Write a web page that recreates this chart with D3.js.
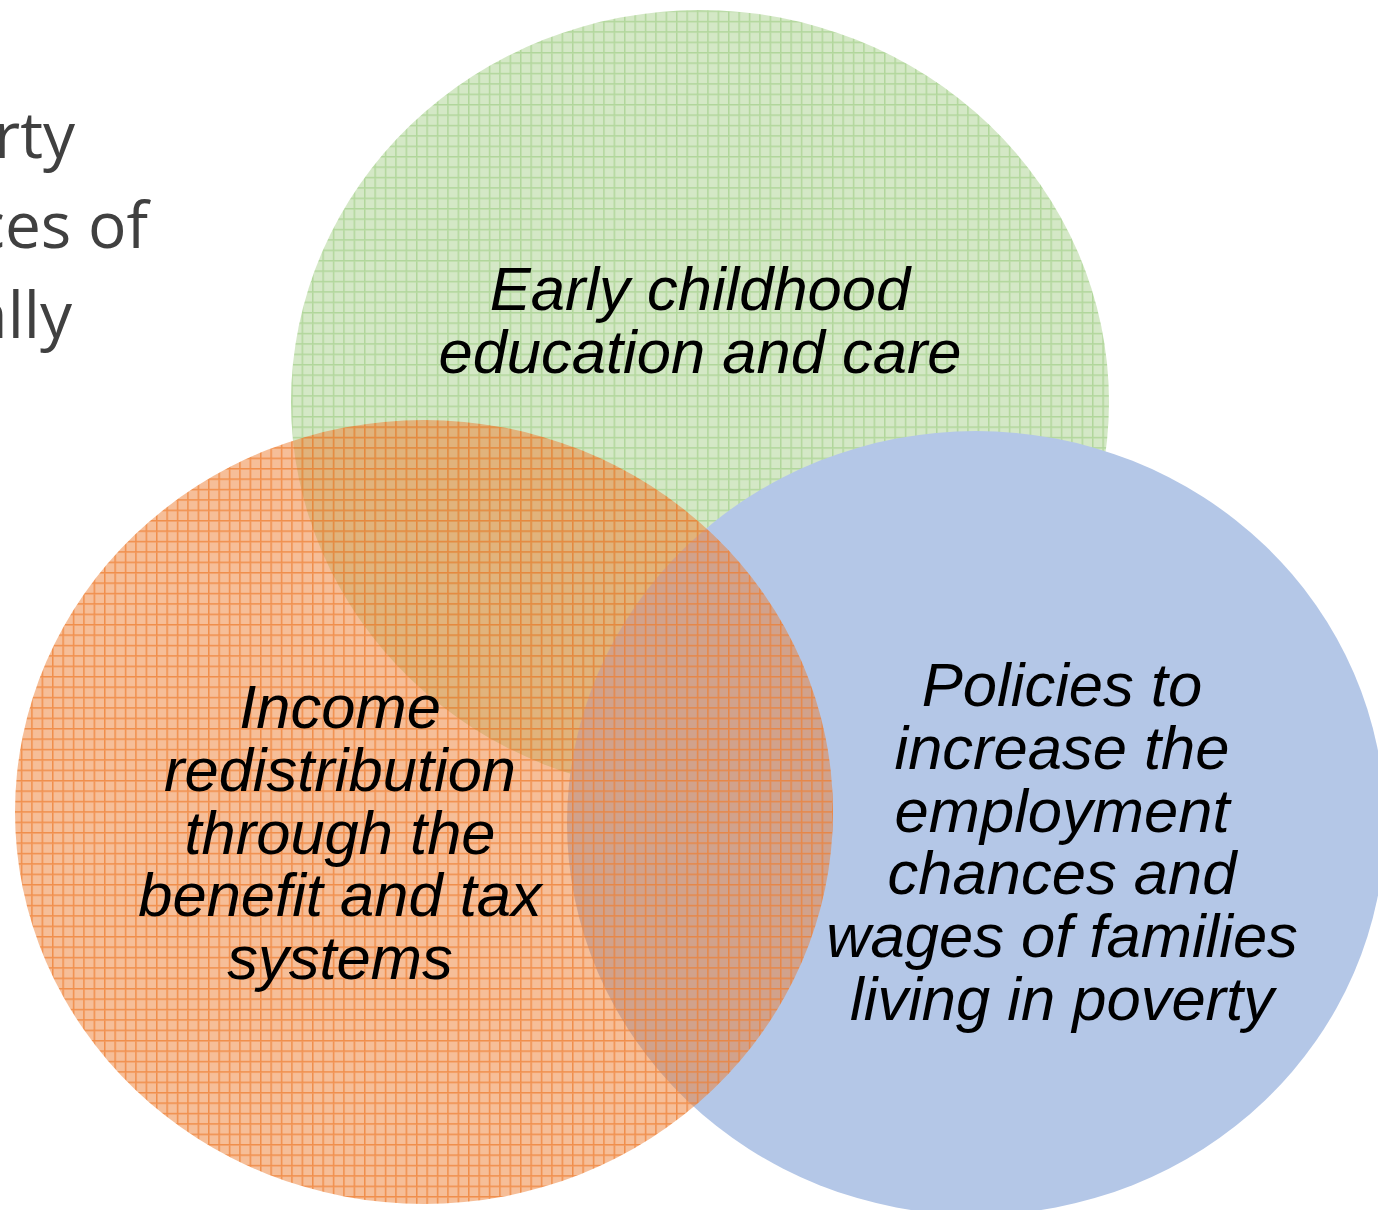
<!DOCTYPE html>
<html><head><meta charset="utf-8">
<script src="https://cdn.jsdelivr.net/npm/d3@7"></script>
<style>html,body{margin:0;padding:0;background:#fff;overflow:hidden}</style>
</head><body>
<script>
// ---- data ----
const setNames = ["Early childhood education and care", "Policies to increase employment", "Income redistribution"];
const setLabels = [
  ["Early childhood", "education and care"],
  ["Policies to", "increase the", "employment", "chances and", "wages of families", "living in poverty"],
  ["Income", "redistribution", "through the", "benefit and tax", "systems"]
];
const titleFragments = ["rty", "ces of", "ally"];

// ---- layout ----
const W = 1378, H = 1210;
const svg = d3.select("body").append("svg").attr("width", W).attr("height", H);
const defs = svg.append("defs");

const styles = [
  {id: "pg", bg: "rgba(169,209,142,0.5)", line: "rgba(150,200,120,0.55)"},
  {id: "pb", bg: "#B4C7E7", line: null},
  {id: "po", bg: "rgba(237,125,49,0.5)", line: "rgba(237,125,49,0.75)"}
];
const step = 10.4;
styles.forEach(s => {
  if (!s.line) return;
  const p = defs.append("pattern").attr("id", s.id).attr("patternUnits", "userSpaceOnUse")
    .attr("width", step).attr("height", step);
  p.append("rect").attr("width", step).attr("height", step).attr("fill", s.bg);
  p.append("rect").attr("x", 0).attr("y", 0).attr("width", step).attr("height", 1.5).attr("fill", s.line);
  p.append("rect").attr("x", 0).attr("y", 1.5).attr("width", 1.5).attr("height", step - 1.5).attr("fill", s.line);
});

const geo = [
  {cx: 700, cy: 402, rx: 409, ry: 392, tx: 700, ty: 310},
  {cx: 976, cy: 823, rx: 409, ry: 392, tx: 1062, ty: 706},
  {cx: 424, cy: 812, rx: 409, ry: 392, tx: 340, ty: 728}
];
const sets = setNames.map((n, i) => ({name: n, lines: setLabels[i], g: geo[i], s: styles[i]}));

svg.selectAll("ellipse.set").data(sets).join("ellipse").attr("class", "set")
  .attr("cx", d => d.g.cx).attr("cy", d => d.g.cy).attr("rx", d => d.g.rx).attr("ry", d => d.g.ry)
  .attr("fill", d => d.s.line ? `url(#${d.s.id})` : d.s.bg);

const lh = 62.8;
sets.forEach(d => {
  const t = svg.append("text").attr("text-anchor", "middle")
    .attr("font-family", "Liberation Sans, Arial, sans-serif").attr("font-style", "italic")
    .attr("font-size", 61.5).attr("fill", "#000");
  d.lines.forEach((l, i) => t.append("tspan").attr("x", d.g.tx).attr("y", d.g.ty + i * lh).text(l));
});

const tEnds = [75, 148, 72];
titleFragments.forEach((f, i) => {
  svg.append("text").attr("x", tEnds[i]).attr("y", 158 + i * 90)
    .attr("text-anchor", "end").attr("font-family", "Open Sans, sans-serif").attr("font-weight", 400)
    .attr("font-size", 64).attr("fill", "#404040").text(f);
});
</script>
</body></html>
